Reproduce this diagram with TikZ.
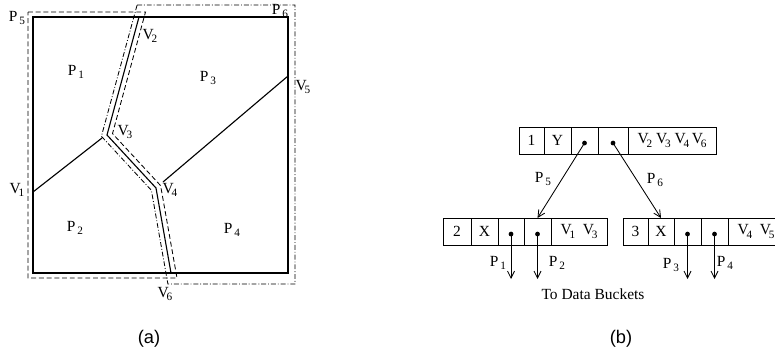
\documentclass[tikz,border=0pt]{standalone}
\usepackage{fontspec}
\setmainfont{Liberation Serif}
\newfontfamily\capfont{Liberation Sans}
\usetikzlibrary{arrows.meta,positioning,calc}
\tikzset{
  outline/.style={line width=0.8pt},
  cutline/.style={line width=0.8pt},
  bucketA/.style={line width=0.6pt,dash pattern=on 3.5pt off 2pt},
  bucketB/.style={line width=0.6pt,dash pattern=on 3.5pt off 1.4pt on 0.6pt off 1.4pt},
  lbl/.style={inner sep=0pt,font=\fontsize{11}{13}\selectfont},
  cell/.style={rectangle,draw,line width=0.6pt,outer sep=0pt,inner sep=0pt,minimum height=0.675cm,font=\fontsize{11}{13}\selectfont},
  ptrdot/.style={circle,fill,inner sep=0pt,minimum size=3.4pt},
  ptr/.style={-{Straight Barb[length=5pt,width=5pt]},line width=0.6pt},
  sublbl/.style={inner sep=0pt,font=\capfont\fontsize{13}{15}\selectfont}
}
\newcommand{\vsub}[1]{V\kern-0.14em\raisebox{-0.45ex}{\footnotesize#1}}
\newcommand{\psub}[1]{P\kern0.12em\raisebox{-0.45ex}{\footnotesize#1}}

\begin{document}
\begin{tikzpicture}[x=0.025cm,y=-0.025cm]
  \useasboundingbox (0,0) rectangle (775,357);

  \coordinate (sqNW) at (33,17); \coordinate (sqSE) at (288,273);
  \coordinate (V1) at (33,192); \coordinate (V2) at (139,17); \coordinate (V3) at (107,135);
  \coordinate (V4) at (156,188); \coordinate (V5) at (288,76); \coordinate (V6) at (171,273);
  \coordinate (V1end) at (102,138); \coordinate (V5end) at (163,182);

  \draw[bucketA] (28,12) -- (145.5,12) -- (112.5,133.6) -- (160.6,185.6) -- (177,278) -- (28,278) -- cycle;
  \draw[bucketB] (137.1,5) -- (295,5) -- (295,284) -- (167.9,284) -- (151.4,190.3) -- (101.4,136.3) -- cycle;
  \draw[outline] (sqNW) rectangle (sqSE);
  \draw[cutline] (V2) -- (V3) -- (V4) -- (V6);
  \draw[cutline] (V1) -- (V1end); \draw[cutline] (V5) -- (V5end);

  \node[lbl] (p5a) at (17,18) {\psub{5}};
  \node[lbl] (p6a) at (280,11) {\psub{6}};
  \node[lbl] (p1a) at (76,72) {\psub{1}};
  \node[lbl] (p3a) at (208,78) {\psub{3}};
  \node[lbl] (p2a) at (75,228) {\psub{2}};
  \node[lbl] (p4a) at (232,230) {\psub{4}};
  \node[lbl] (v1a) at (17,190) {\vsub{1}};
  \node[lbl] (v2a) at (150,36) {\vsub{2}};
  \node[lbl] (v3a) at (125,132) {\vsub{3}};
  \node[lbl] (v4a) at (170,190) {\vsub{4}};
  \node[lbl] (v5a) at (303,87) {\vsub{5}};
  \node[lbl] (v6a) at (165,294) {\vsub{6}};

  \node[cell,minimum width=0.625cm,anchor=north west] (t1) at (519,127) {1};
  \node[cell,minimum width=0.675cm,right=0pt of t1] (t2) {Y};
  \node[cell,minimum width=0.675cm,right=0pt of t2] (t3) {};
  \node[cell,minimum width=0.75cm,right=0pt of t3] (t4) {};
  \node[cell,minimum width=2.2cm,right=0pt of t4] (t5) {\vsub{2} \vsub{3} \vsub{4}\,\vsub{6}};

  \node[cell,minimum width=0.7cm,anchor=north west] (l1) at (443,218) {2};
  \node[cell,minimum width=0.675cm,right=0pt of l1] (l2) {X};
  \node[cell,minimum width=0.65cm,right=0pt of l2] (l3) {};
  \node[cell,minimum width=0.675cm,right=0pt of l3] (l4) {};
  \node[cell,minimum width=1.4cm,right=0pt of l4] (l5) {\vsub{1}\enspace\vsub{3}};

  \node[cell,minimum width=0.625cm,anchor=north west] (r1) at (623,218) {3};
  \node[cell,minimum width=0.65cm,right=0pt of r1] (r2) {X};
  \node[cell,minimum width=0.675cm,right=0pt of r2] (r3) {};
  \node[cell,minimum width=0.675cm,right=0pt of r3] (r4) {};
  \node[cell,minimum width=1.4cm,right=0pt of r4] (r5) {\vsub{4}\enspace\vsub{5}};

  \node[ptrdot] (t3d) at ([yshift=-1.8pt]t3.center) {};
  \node[ptrdot] (t4d) at ([yshift=-1.8pt]t4.center) {};
  \node[ptrdot] (l3d) at ([yshift=-1.8pt]l3.center) {};
  \node[ptrdot] (l4d) at ([yshift=-1.8pt]l4.center) {};
  \node[ptrdot] (r3d) at ([yshift=-1.8pt]r3.center) {};
  \node[ptrdot] (r4d) at ([yshift=-1.8pt]r4.center) {};
  \coordinate (l3e) at ($(l3d)+(0,45)$); \coordinate (l4e) at ($(l4d)+(0,45)$);
  \coordinate (r3e) at ($(r3d)+(0,45)$); \coordinate (r4e) at ($(r4d)+(0,45)$);

  \draw[ptr] (t3d.center) -- (l4.north); \draw[ptr] (t4d.center) -- (r2.north);
  \draw[ptr] (l3d.center) -- (l3e); \draw[ptr] (l4d.center) -- (l4e);
  \draw[ptr] (r3d.center) -- (r3e); \draw[ptr] (r4d.center) -- (r4e);

  \node[lbl] (p5b) at (543,179) {\psub{5}};
  \node[lbl] (p6b) at (655,180) {\psub{6}};
  \node[lbl] (p1b) at (498,263) {\psub{1}};
  \node[lbl] (p2b) at (557,263) {\psub{2}};
  \node[lbl] (p3b) at (671,265) {\psub{3}};
  \node[lbl] (p4b) at (725,263) {\psub{4}};
  \node[lbl] (dest) at (593,294) {To Data Buckets};

  \node[sublbl] (capa) at (149,339) {(a)};
  \node[sublbl] (capb) at (621,339) {(b)};
\end{tikzpicture}
\end{document}
